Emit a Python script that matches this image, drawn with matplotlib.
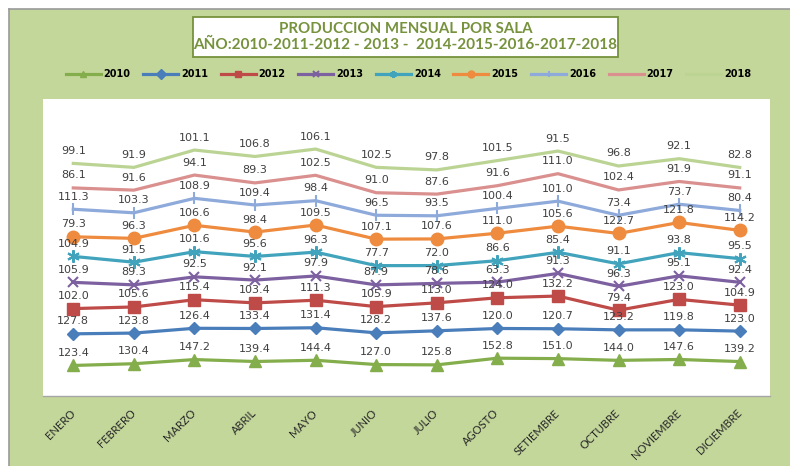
import numpy as np
import matplotlib.pyplot as plt
from matplotlib.patches import Rectangle
from matplotlib.lines import Line2D

# Monthly production per year (stacked in the chart)
months = ['ENERO', 'FEBRERO', 'MARZO', 'ABRIL', 'MAYO', 'JUNIO', 'JULIO',
          'AGOSTO', 'SETIEMBRE', 'OCTUBRE', 'NOVIEMBRE', 'DICIEMBRE']
years = ['2010', '2011', '2012', '2013', '2014', '2015', '2016', '2017', '2018']

v2010 = [123.4, 130.4, 147.2, 139.4, 144.4, 127.0, 125.8, 152.8, 151.0, 144.0, 147.6, 139.2]
v2011 = [127.8, 123.8, 126.4, 133.4, 131.4, 128.2, 137.6, 120.0, 120.7, 123.2, 119.8, 123.0]
v2012 = [102.0, 105.6, 115.4, 103.4, 111.3, 105.9, 113.0, 124.0, 132.2, 79.4, 123.0, 104.9]
v2013 = [105.9, 89.3, 92.5, 92.1, 97.9, 87.9, 78.6, 63.3, 91.3, 96.3, 95.1, 92.4]
v2014 = [104.9, 91.5, 101.6, 95.6, 96.3, 77.7, 72.0, 86.6, 85.4, 91.1, 93.8, 95.5]
v2015 = [79.3, 96.3, 106.6, 98.4, 109.5, 107.1, 107.6, 111.0, 105.6, 122.7, 121.8, 114.2]
v2016 = [111.3, 103.3, 108.9, 109.4, 98.4, 96.5, 93.5, 100.4, 101.0, 73.4, 73.7, 80.4]
v2017 = [86.1, 91.6, 94.1, 89.3, 102.5, 91.0, 87.6, 91.6, 111.0, 102.4, 91.9, 91.1]
v2018 = [99.1, 91.9, 101.1, 106.8, 106.1, 102.5, 97.8, 101.5, 91.5, 96.8, 92.1, 82.8]

series = [v2010, v2011, v2012, v2013, v2014, v2015, v2016, v2017, v2018]

# excel-ish look for each year: colour, marker, marker size
styles = [
    ('#84AD4B', '^', 8),
    ('#4A7EBB', 'D', 6),
    ('#BE4B48', 's', 8),
    ('#7D60A0', 'x', 7),
    ('#41A3BC', (6, 2, 0), 9),
    ('#EE8B3E', 'o', 9),
    ('#8EAADB', '|', 8),
    ('#D9908E', None, 0),
    ('#BBD494', None, 0),
]

bg = '#C4D79B'
title_green = '#76923C'

fig = plt.figure(figsize=(7.9, 4.66), dpi=100, facecolor='white')

# green chart area with grey border on top / left
fig.patches.append(Rectangle((9 / 790, 0), 781 / 790, 457 / 466, transform=fig.transFigure,
                             facecolor=bg, edgecolor='none', zorder=-10))
fig.add_artist(Line2D([9 / 790, 9 / 790], [0, 457 / 466], color='#9A9A9A', lw=1.2))
fig.add_artist(Line2D([9 / 790, 1], [457 / 466, 457 / 466], color='#9A9A9A', lw=1.2))

# title box
fig.patches.append(Rectangle((193 / 790, 1 - 57 / 466), 425 / 790, 40 / 466, transform=fig.transFigure,
                             facecolor='white', edgecolor=title_green, lw=1.3, zorder=1))
fig.text(0.513, 1 - 29 / 466, 'PRODUCCION MENSUAL POR SALA', ha='center', va='center',
         color=title_green, fontsize=10.8, fontweight='bold', family='Lato', zorder=2)
fig.text(0.513, 1 - 45 / 466, 'AÑO:2010-2011-2012 - 2013 -  2014-2015-2016-2017-2018', ha='center',
         va='center', color=title_green, fontsize=11, fontweight='bold', family='Lato', zorder=2)

ax = fig.add_axes([43 / 790, 70 / 466, 727 / 790, 297 / 466])
ax.set_facecolor('white')

x = np.arange(len(months))
cum = np.cumsum(np.array(series), axis=0)

handles = []
for k, (vals, (col, mk, ms)) in enumerate(zip(series, styles)):
    line, = ax.plot(x, cum[k], color=col, lw=2.3, marker=mk, markersize=ms,
                    markeredgecolor=col, markeredgewidth=1.5 if mk in ('x', '|') or isinstance(mk, tuple) else 1,
                    label=years[k], zorder=3)
    handles.append(line)
    for i, v in enumerate(vals):
        ax.annotate(f'{v:.1f}', (x[i], cum[k][i]), xytext=(0, 9), textcoords='offset points',
                    ha='center', va='center', fontsize=8, color='#404040', zorder=5)

ax.set_xlim(-0.5, len(months) - 0.5)
ax.set_ylim(0, 1200)
ax.set_yticks([])
ax.set_xticks(x)
ax.set_xticklabels(months, rotation=45, ha='right', va='center', rotation_mode='anchor',
                   fontsize=8, family='Lato', color='#262626')
ax.tick_params(axis='x', length=0, pad=11)
for s in ['top', 'left', 'right']:
    ax.spines[s].set_visible(False)
ax.spines['bottom'].set_color('#A6A6A6')
ax.spines['bottom'].set_linewidth(1)

leg = fig.legend(handles=handles, loc='center', bbox_to_anchor=(0.517, 1 - 74 / 466), ncol=9,
                 frameon=False, handlelength=3.6, handletextpad=0.3, columnspacing=1.3,
                 prop={'size': 7, 'weight': 'bold'}, numpoints=1)
for h in leg.legend_handles:
    h.set_markersize(5)

plt.savefig('out.png', dpi=100, facecolor='white')
